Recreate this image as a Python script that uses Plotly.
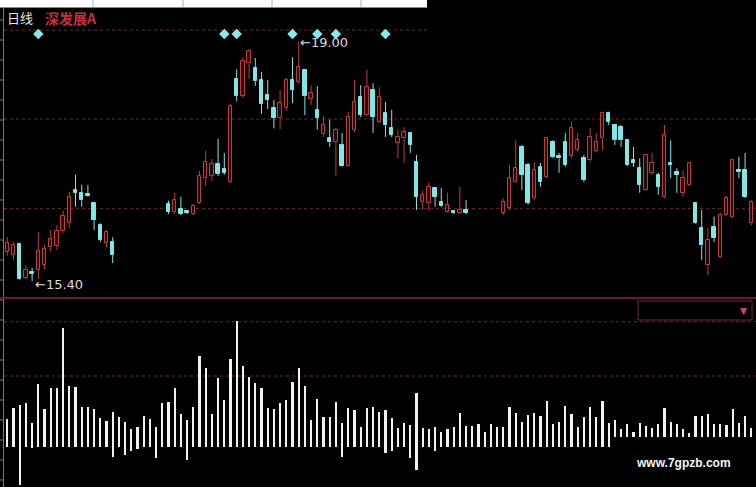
import plotly.graph_objects as go

N = None
W, H = 756, 487

# ---------------- data ----------------
idx = list(range(121))

opens = [15.84, 15.79, 15.96, 15.45, 15.54, 15.57, 15.64, 15.91, 15.93, 16.15,
         16.27, 16.77, 16.73, 16.71, 16.58, 16.24, 15.97, 15.99, N, N,
         N, N, N, N, N, N, 16.56, 16.44, 16.49, 16.44,
         16.41, 16.58, 16.95, 16.98, 17.16, 17.09, 16.89, 18.44, 18.19, 18.68,
         18.61, 18.43, 18.20, 18.01, 17.86, 18.01, 18.43, 18.40, 18.58, 18.14,
         17.98, 17.61, 17.55, 17.49, 17.45, 17.13, 17.68, 18.17, 17.90, 18.28,
         17.80, 17.93, 17.71, 17.48, 17.55, 17.63, 17.19, 16.59, 16.58, 16.80,
         16.59, 16.44, 16.44, 16.43, 16.47, N, N, N, N, N,
         16.43, 16.50, 16.89, 17.42, 17.15, 16.65, 17.12, 16.97, 17.49, 17.28,
         17.49, 17.28, 17.37, 17.25, 17.22, 17.36, 17.55, 17.93, 17.75, 17.72,
         17.52, 17.22, 17.10, 16.77, 17.03, 17.00, 16.67, 17.18, 17.04, 16.73,
         16.85, 16.58, 16.20, 15.64, 16.21, 15.76, 16.39, 16.36, 17.07, 17.07,
         16.27]

highs = [16.06, 15.99, 15.97, 15.64, 15.60, 16.14, 15.94, 16.17, 16.24, 16.46,
         16.74, 17.00, 16.85, 16.85, 16.59, 16.27, 16.17, 16.06, N, N,
         N, N, N, N, N, N, 16.61, 16.73, 16.67, 16.46,
         16.56, 17.06, 17.36, 17.24, 17.54, 17.33, 18.07, 18.59, 18.77, 18.89,
         18.76, 18.55, 18.43, 18.13, 18.28, 18.46, 18.77, 19.00, 18.59, 18.35,
         18.34, 17.89, 17.83, 17.71, 17.63, 17.95, 18.43, 18.35, 18.58, 18.38,
         18.32, 18.10, 17.98, 17.68, 17.72, 17.64, 17.30, 16.76, 16.89, 16.82,
         16.80, 16.73, 16.46, 16.82, 16.62, N, N, N, N, N,
         16.65, 17.15, 17.52, 17.45, 17.18, 17.19, 17.18, 17.57, 17.52, 17.33,
         17.63, 17.80, 17.63, 17.30, 17.71, 17.63, 17.95, 17.95, 17.76, 17.75,
         17.54, 17.42, 17.25, 17.31, 17.33, 17.03, 17.75, 17.52, 17.10, 17.07,
         17.19, 16.59, 16.47, 16.20, 16.37, 16.43, 16.68, 17.24, 17.27, 17.33,
         16.62]

lows = [15.78, 15.72, 15.42, 15.42, 15.40, 15.43, 15.58, 15.84, 15.87, 16.12,
        16.20, 16.52, 16.52, 16.67, 16.17, 15.99, 15.91, 15.67, N, N,
        N, N, N, N, N, N, 16.41, 16.41, 16.39, 16.41,
        16.39, 16.56, 16.83, 16.91, 16.98, 17.00, 16.88, 18.11, 18.16, 18.44,
        18.34, 17.92, 17.99, 17.70, 17.69, 17.96, 18.08, 18.37, 17.90, 18.05,
        17.68, 17.57, 17.42, 16.98, 17.12, 17.12, 17.64, 17.87, 17.89, 17.63,
        17.78, 17.57, 17.57, 17.25, 17.18, 17.33, 16.47, 16.47, 16.46, 16.52,
        16.52, 16.43, 16.41, 16.41, 16.41, N, N, N, N, N,
        16.39, 16.47, 16.88, 16.77, 16.55, 16.62, 16.82, 16.95, 17.25, 17.03,
        17.12, 17.25, 17.34, 16.89, 17.19, 17.34, 17.37, 17.75, 17.45, 17.42,
        17.13, 17.12, 16.73, 16.76, 17.00, 16.70, 16.65, 16.95, 16.73, 16.67,
        16.83, 16.26, 15.72, 15.49, 15.99, 15.75, 16.38, 16.35, 16.95, 16.65,
        16.24]

closes = [15.97, 15.94, 15.43, 15.57, 15.51, 15.85, 15.88, 16.03, 16.15, 16.38,
          16.67, 16.73, 16.62, 16.68, 16.32, 16.02, 16.14, 15.79, N, N,
          N, N, N, N, N, N, 16.44, 16.62, 16.41, 16.43,
          16.53, 16.98, 17.19, 17.16, 17.01, 17.03, 18.04, 18.19, 18.71, 18.86,
          18.41, 18.07, 18.13, 17.86, 18.08, 18.43, 18.28, 18.62, 18.19, 18.23,
          17.86, 17.75, 17.49, 17.68, 17.13, 17.87, 18.10, 17.90, 18.32, 17.87,
          18.17, 17.75, 17.60, 17.57, 17.64, 17.45, 16.67, 16.70, 16.82, 16.67,
          16.53, 16.55, 16.43, 16.47, 16.43, N, N, N, N, N,
          16.59, 16.95, 17.10, 17.00, 16.58, 17.07, 16.89, 17.55, 17.27, 17.25,
          17.15, 17.71, 17.52, 16.92, 17.57, 17.49, 17.93, 17.80, 17.52, 17.52,
          17.15, 17.18, 16.85, 17.30, 17.18, 16.82, 17.60, 17.15, 17.00, 16.95,
          17.18, 16.27, 15.94, 16.02, 16.05, 16.39, 16.65, 17.22, 17.04, 16.67,
          16.59]

# lower indicator: bar top / bar bottom
vol_hi = [27.7, 38.4, 41.4, 43.4, 24.0, 62.4, 37.4, 59.0, 59.0, 119.0,
          61.0, 60.0, 39.4, 39.4, 37.4, 28.7, 26.0, 35.0, 29.4, 25.0,
          17.7, 19.7, 30.7, 27.7, 19.7, 43.4, 45.0, 59.0, 32.7, 26.4,
          39.4, 90.4, 78.4, 32.7, 68.7, 47.0, 87.4, 125.4, 80.7, 70.0,
          63.4, 59.0, 38.4, 37.4, 44.0, 47.0, 64.7, 78.4, 61.0, 26.7,
          48.0, 29.7, 29.7, 45.0, 24.0, 38.4, 36.4, 19.7, 38.4, 39.4,
          35.0, 36.4, 28.7, 18.4, 23.4, 21.7, 53.4, 19.0, 17.4, 19.7,
          14.4, 17.4, 19.7, 34.0, 20.7, 20.7, 23.0, 15.0, 23.0, 19.7,
          19.7, 39.4, 34.0, 25.0, 31.7, 34.0, 30.7, 45.7, 22.7, 25.0,
          40.7, 32.7, 19.7, 29.4, 39.4, 29.4, 46.0, 24.0, 26.4, 17.7,
          22.7, 15.0, 24.0, 20.7, 18.4, 23.0, 38.4, 25.0, 22.7, 17.4,
          14.0, 30.7, 30.7, 32.7, 22.7, 22.7, 21.7, 37.4, 24.0, 30.7,
          18.4]

vol_lo = [0, 0, -38.6, 0, -1.0, 0, 0, 0, 0, 0,
          0, 0, 0, 0, 0, 0, 0, -10.0, 0, -8.6,
          -4.0, -2.0, 0, 0, -11.0, 0, 0, 0, 0, -13.3,
          0, 0, 0, 0, 0, 0, 0, 0, 0, 0,
          0, 0, 0, 0, 0, 0, 0, 0, 0, 0,
          0, 0, 0, 0, -10.6, 0, 0, 0, 0, 0,
          0, -6.0, -4.0, 0, 0, -11.6, -23.3, 0, 0, -4.3,
          0, 0, 0, 0, 0, 0, 0, 0, 0, 0,
          0, 0, 0, 0, 0, 0, 0, 0, 0, 0,
          0, 0, 0, 0, 0, 0, 0, 0, 9.4, 9.4,
          9.4, 9.4, 9.4, 9.4, 9.4, 9.4, 9.4, 9.4, 9.4, 9.4,
          9.4, 9.4, 9.4, 9.4, 9.4, 9.4, 9.4, 9.4, 9.4, 9.4,
          9.4]

signal_idx = [5, 35, 37, 46, 50, 53, 61]
signal_level = 19.12

grid_top = [19.18, 17.84, 16.49]
grid_bottom = [125.0, 70.7]

stock_title = "日线"
stock_name = "深发展A"
high_label = "←19.00"
low_label = "←15.40"
watermark = "www.7gpzb.com"

# ---------------- styling ----------------
RED = "#c23a3e"
RED_FILL = "#2a0709"
CYAN = "#80e6e6"
GRID = "#6b2c2e"

fig = go.Figure()

def build(up):
    bx, bbase, bh = [], [], []
    wx, wy = [], []
    for i, o, h, l, c in zip(idx, opens, highs, lows, closes):
        if o is None:
            continue
        if (c > o) != up:
            continue
        top, bot = max(o, c), min(o, c)
        bx.append(i)
        bbase.append(bot)
        bh.append(max(top - bot, 0.02))
        if h > top:
            wx += [i, i, None]
            wy += [top, h, None]
        if l < bot:
            wx += [i, i, None]
            wy += [l, bot, None]
    return bx, bbase, bh, wx, wy

for up, line_c, fill_c in [(True, RED, RED_FILL), (False, CYAN, CYAN)]:
    bx, bbase, bh, wx, wy = build(up)
    fig.add_trace(go.Scatter(x=wx, y=wy, mode="lines",
                             line=dict(color=line_c, width=1),
                             hoverinfo="skip", xaxis="x", yaxis="y"))
    fig.add_trace(go.Bar(x=bx, y=bh, base=bbase, width=0.55,
                         marker=dict(color=fill_c, line=dict(color=line_c, width=1)),
                         xaxis="x", yaxis="y"))

# signal diamonds
fig.add_trace(go.Scatter(x=signal_idx, y=[signal_level] * len(signal_idx),
                         mode="markers",
                         marker=dict(symbol="diamond", size=8, color="#86e8ea"),
                         xaxis="x", yaxis="y"))

# lower indicator bars
fig.add_trace(go.Bar(x=idx, y=[h - l for h, l in zip(vol_hi, vol_lo)], base=vol_lo,
                     width=0.34, marker=dict(color="#f2f2f2", line=dict(width=0)),
                     xaxis="x2", yaxis="y2"))

xr = [-1.177, 120.76]
top_dom = [1 - 297 / H, 1 - 8 / H]
bot_dom = [0, 1 - 300 / H]

shapes = []
# white strip at top
shapes.append(dict(type="rect", xref="paper", yref="paper", x0=0, x1=427 / W,
                   y0=1 - 7.5 / H, y1=1, fillcolor="white", line=dict(width=0), layer="above"))
for xp in [93, 183, 272, 361]:
    shapes.append(dict(type="line", xref="paper", yref="paper", x0=xp / W, x1=xp / W,
                       y0=1 - 7.5 / H, y1=1, line=dict(color="#b0b0b0", width=1), layer="above"))
shapes.append(dict(type="line", xref="paper", yref="paper", x0=0, x1=427 / W,
                   y0=1 - 7.5 / H, y1=1 - 7.5 / H, line=dict(color="#8a8a8a", width=1), layer="above"))
# left axis line with ticks
shapes.append(dict(type="line", xref="paper", yref="paper", x0=3.5 / W, x1=3.5 / W,
                   y0=0, y1=1 - 8 / H, line=dict(color="#7a7a7a", width=1)))
for yp in range(20, 487, 20):
    shapes.append(dict(type="line", xref="paper", yref="paper", x0=0, x1=3.5 / W,
                       y0=1 - yp / H, y1=1 - yp / H, line=dict(color="#7a7a7a", width=1)))
# grid lines upper panel
for k, g in enumerate(grid_top):
    shapes.append(dict(type="line", xref="paper", yref="y", x0=4 / W,
                       x1=(427 / W if k == 0 else 1), y0=g, y1=g,
                       line=dict(color=GRID, width=1, dash="dot"), layer="below"))
# grid lines lower panel
for g in grid_bottom:
    shapes.append(dict(type="line", xref="paper", yref="y2", x0=4 / W, x1=1, y0=g, y1=g,
                       line=dict(color=GRID, width=1, dash="dot"), layer="below"))
# separator
shapes.append(dict(type="line", xref="paper", yref="paper", x0=0, x1=1,
                   y0=1 - 298 / H, y1=1 - 298 / H, line=dict(color="#6e1a22", width=2)))
# dropdown box
shapes.append(dict(type="rect", xref="paper", yref="paper", x0=638 / W, x1=752 / W,
                   y0=1 - 320 / H, y1=1 - 301 / H, line=dict(color="#7a2040", width=1)))

annotations = [
    dict(xref="paper", yref="paper", x=5 / W, y=1 - 17.5 / H, xanchor="left", yanchor="middle",
         text=stock_title, showarrow=False,
         font=dict(family="Noto Sans CJK SC", size=13, color="#e6e6e6")),
    dict(xref="paper", yref="paper", x=43 / W, y=1 - 17.5 / H, xanchor="left", yanchor="middle",
         text="<b>" + stock_name + "</b>", showarrow=False,
         font=dict(family="Noto Sans CJK SC", size=14, color="#c4303a")),
    dict(xref="x", yref="y", x=47, y=max(h for h in highs if h is not None),
         xanchor="left", yanchor="middle", text=high_label, showarrow=False, xshift=-1,
         font=dict(family="DejaVu Sans", size=13, color="#dcdcdc")),
    dict(xref="x", yref="y", x=4, y=min(l for l in lows if l is not None),
         xanchor="left", yanchor="middle", text=low_label, showarrow=False, xshift=1, yshift=-3,
         font=dict(family="DejaVu Sans", size=13, color="#dcdcdc")),
    dict(xref="paper", yref="paper", x=743 / W, y=1 - 310.5 / H, xanchor="center", yanchor="middle",
         text="▼", showarrow=False, font=dict(family="DejaVu Sans", size=9, color="#e8406a")),
    dict(xref="paper", yref="paper", x=683 / W, y=1 - 463 / H, xanchor="center", yanchor="middle",
         text="<b>" + watermark + "</b>", showarrow=False,
         font=dict(family="Liberation Sans", size=12, color="#f5f5f5")),
]

ax_common = dict(showgrid=False, zeroline=False, showticklabels=False, showline=False,
                 ticks="", fixedrange=True)

fig.update_layout(
    width=W, height=H,
    margin=dict(l=0, r=0, t=0, b=0),
    paper_bgcolor="black", plot_bgcolor="black",
    showlegend=False, barmode="overlay", bargap=0,
    xaxis=dict(domain=[0, 1], range=xr, anchor="y", **ax_common),
    yaxis=dict(domain=top_dom, range=[15.160, 19.512], anchor="x", **ax_common),
    xaxis2=dict(domain=[0, 1], range=xr, anchor="y2", **ax_common),
    yaxis2=dict(domain=bot_dom, range=[-40.3, 146.7], anchor="x2", **ax_common),
    shapes=shapes,
    annotations=annotations,
)

fig.write_html(
    "out.html",
    config={"displayModeBar": False},
    post_script="document.body.style.margin='0';document.body.style.background='black';"
                "document.body.style.overflow='hidden';",
)
